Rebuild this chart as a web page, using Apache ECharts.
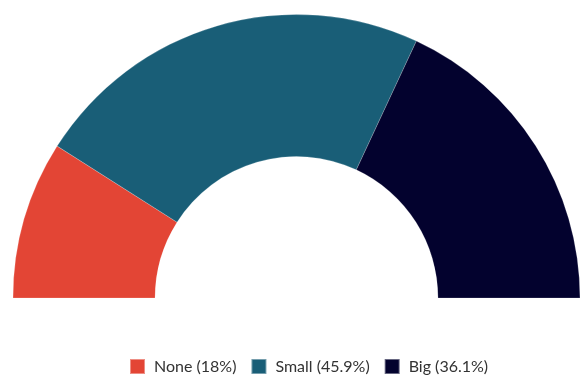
<!DOCTYPE html>
<html><head><meta charset="utf-8">
<script src="https://cdn.jsdelivr.net/npm/echarts@6/dist/echarts.min.js"></script>
<style>html,body{margin:0;padding:0;background:#fff}#c{width:583px;height:376px}</style>
</head><body><div id="c"></div>
<script>
const categories = ['None', 'Small', 'Big'];
const values = [18, 45.9, 36.1];
const colors = ['#E34535', '#195E77', '#03022E'];

const chart = echarts.init(document.getElementById('c'), null, {renderer: 'canvas'});
chart.setOption({
  animation: false,
  color: colors,
  legend: {
    top: 353,
    left: 124,
    itemWidth: 15,
    itemHeight: 15,
    itemGap: 14,
    icon: 'rect',
    textStyle: {fontFamily: 'Lato', fontSize: 16, color: '#333', padding: [0, 0, 0, 4]},
    formatter: function (name) {
      const i = categories.indexOf(name);
      return name + ' (' + values[i] + '%)';
    },
    data: categories
  },
  series: [{
    type: 'pie',
    center: [296.5, 298],
    radius: [141.5, 283.5],
    startAngle: 180,
    endAngle: 0,
    clockwise: true,
    label: {show: false},
    labelLine: {show: false},
    itemStyle: {borderColor: 'rgba(255,255,255,0.4)', borderWidth: 0.5},
    data: categories.map((c, i) => ({name: c, value: values[i]}))
  }]
});
</script></body></html>
